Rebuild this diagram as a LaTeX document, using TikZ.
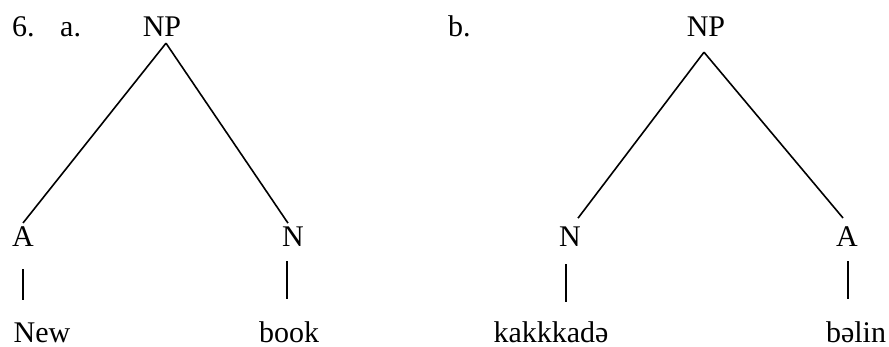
\documentclass[tikz,border=0pt]{standalone}
\usepackage{fontspec}
\setmainfont{Liberation Serif}
\usetikzlibrary{calc}
\tikzset{
  lbl/.style={inner sep=0pt, anchor=base, font=\fontsize{30}{36}\selectfont},
  lblw/.style={lbl, anchor=base west},
  edge/.style={line width=1.6pt}
}
\begin{document}
\begin{tikzpicture}[x=1pt,y=-1pt]
\useasboundingbox (0,0) rectangle (889,347);
% labels
\node[lblw] (six) at (12,37) {6.};
\node[lblw] (la) at (60,37) {a.};
\node[lblw] (lb) at (448,37) {b.};
% tree a
\node[lbl] (NPa) at (162,37) {NP};
\node[lbl] (Aa) at (23,247) {A};
\node[lbl] (Na) at (293,247) {N};
\node[lbl] (New) at (42,342) {New};
\node[lbl] (book) at (289,342) {book};
\draw[edge] ($(NPa.south)+(4,6)$) -- ($(Aa.north)+(0,-4)$);
\draw[edge] ($(NPa.south)+(4,6)$) -- ($(Na.north)+(-5,-4)$);
\draw[edge] ($(Aa.south)+(0,22)$) -- ($(Aa.south |- New.north)+(0,-22)$);
\draw[edge] ($(Na.south)+(-6,14)$) -- ($(Na.south |- book.north)+(-6,-22)$);
% tree b
\node[lbl] (NPb) at (706,37) {NP};
\node[lbl] (Nb) at (570,247) {N};
\node[lbl] (Ab) at (847,247) {A};
\node[lbl] (kak) at (551,342) {kakkkadə};
\node[lbl] (bel) at (856,342) {bəlin};
\draw[edge] ($(NPb.south)+(-2,15)$) -- ($(Nb.north)+(8,-9)$);
\draw[edge] ($(NPb.south)+(-2,15)$) -- ($(Ab.north)+(-4,-9)$);
\draw[edge] ($(Nb.south)+(-4,17)$) -- ($(Nb.south)+(-4,55)$);
\draw[edge] ($(Ab.south)+(1,14)$) -- ($(Ab.south)+(1,52)$);
\end{tikzpicture}
\end{document}
